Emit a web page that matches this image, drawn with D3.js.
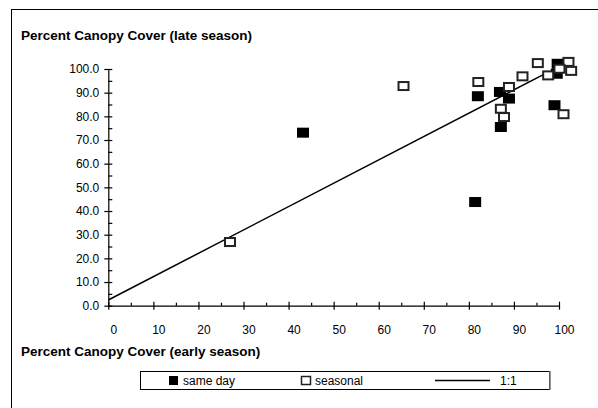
<!DOCTYPE html>
<html>
<head>
<meta charset="utf-8">
<script src="https://cdn.jsdelivr.net/npm/d3@7"></script>
<style>
  html, body { margin: 0; padding: 0; background: #fff; }
  svg { display: block; }
  text { font-family: "Liberation Sans", Arial, sans-serif; fill: #000; }
</style>
</head>
<body>
<svg id="chart" width="598" height="408"></svg>
<script>
// ---- data ----
const sameDayX = [43.2, 82.0, 86.9, 88.9, 87.1, 81.4, 99.7, 99.5, 99.0];
const sameDayY = [73.1, 88.5, 90.3, 87.5, 75.5, 43.8, 102.2, 98.0, 84.7];
const seasonalX = [27.0, 65.5, 82.1, 91.9, 88.9, 87.1, 87.8, 95.3, 102.1, 100.1, 102.7, 97.6, 101.0];
const seasonalY = [26.9, 92.8, 94.5, 96.9, 92.4, 83.2, 79.7, 102.5, 103.0, 100.1, 99.2, 97.3, 80.9];
const lineX = [0, 97.6];
const lineY = [2.4, 98.7];
const xTicks = [0, 10, 20, 30, 40, 50, 60, 70, 80, 90, 100];
const yTicks = [0, 10, 20, 30, 40, 50, 60, 70, 80, 90, 100];
const xMinor = [5, 15, 25, 35, 45, 55, 65, 75, 85, 95];
const yMinor = [5, 15, 25, 35, 45, 55, 65, 75, 85, 95];
const yTitle = "Percent Canopy Cover (late season)";
const xTitle = "Percent Canopy Cover (early season)";
const legendLabels = ["same day", "seasonal", "1:1"];

// ---- drawing ----
const svg = d3.select("#chart");
const x = d3.scaleLinear().domain([0, 100]).range([108.3, 559]);
const y = d3.scaleLinear().domain([0, 100]).range([305.7, 69]);

// outer frame
svg.append("rect").attr("x", 11.5).attr("y", 9.5).attr("width", 620).attr("height", 420)
  .attr("fill", "none").attr("stroke", "#000").attr("stroke-width", 1);

// titles
svg.append("text").attr("x", 21).attr("y", 40).attr("font-size", 13.5).attr("font-weight", "bold").text(yTitle);
svg.append("text").attr("x", 21).attr("y", 356).attr("font-size", 13.5).attr("font-weight", "bold").text(xTitle);

// x axis
const gx = svg.append("g").attr("transform", `translate(0,${y(0)})`)
  .call(d3.axisBottom(x).tickValues(xTicks).tickSize(4).tickSizeOuter(0).tickFormat(d3.format("d")));
gx.selectAll(".tick line").attr("y1", -4).attr("y2", 4);
gx.selectAll(".tick text").attr("dx", 5).attr("dy", "1.8em").attr("font-size", 12)
  .style("font-family", '"Liberation Sans", Arial, sans-serif');
const gxm = svg.append("g").attr("transform", `translate(0,${y(0)})`)
  .call(d3.axisBottom(x).tickValues(xMinor).tickSize(-3).tickSizeOuter(0).tickFormat(""));
gxm.select(".domain").remove();

// y axis
const gy = svg.append("g").attr("transform", `translate(${x(0)},0)`)
  .call(d3.axisLeft(y).tickValues(yTicks).tickSize(4).tickSizeOuter(0).tickFormat(d3.format(".1f")));
gy.selectAll(".tick line").attr("x1", -4).attr("x2", 4);
gy.selectAll(".tick text").attr("dx", -2).attr("font-size", 12)
  .style("font-family", '"Liberation Sans", Arial, sans-serif');
const gym = svg.append("g").attr("transform", `translate(${x(0)},0)`)
  .call(d3.axisLeft(y).tickValues(yMinor).tickSize(-4).tickSizeOuter(0).tickFormat(""));
gym.select(".domain").remove();

svg.selectAll(".domain, .tick line").attr("stroke", "#000").attr("stroke-width", 1.2);

// 1:1 line
const lineData = lineX.map((d, i) => [d, lineY[i]]);
svg.append("path").datum(lineData)
  .attr("d", d3.line().x(d => x(d[0])).y(d => y(d[1])))
  .attr("fill", "none").attr("stroke", "#000").attr("stroke-width", 1.5);

const mw = 12, mh = 10;
// same day (filled)
svg.append("g").selectAll("rect").data(sameDayX.map((d, i) => [d, sameDayY[i]])).join("rect")
  .attr("x", d => x(d[0]) - mw / 2).attr("y", d => y(d[1]) - mh / 2)
  .attr("width", mw).attr("height", mh).attr("fill", "#000");
// seasonal (open)
svg.append("g").selectAll("rect").data(seasonalX.map((d, i) => [d, seasonalY[i]])).join("rect")
  .attr("x", d => x(d[0]) - mw / 2 + 1).attr("y", d => y(d[1]) - mh / 2 + 1)
  .attr("width", mw - 2).attr("height", mh - 2).attr("fill", "#fff")
  .attr("stroke", "#222").attr("stroke-width", 2);

// legend
const lg = svg.append("g");
lg.append("rect").attr("x", 140.5).attr("y", 371.5).attr("width", 409).attr("height", 18)
  .attr("fill", "#fff").attr("stroke", "#000").attr("stroke-width", 1);
lg.append("line").attr("x1", 550).attr("x2", 550).attr("y1", 371).attr("y2", 390)
  .attr("stroke", "#777").attr("stroke-width", 1.5);
lg.append("rect").attr("x", 169).attr("y", 376).attr("width", 9).attr("height", 9).attr("fill", "#000");
lg.append("text").attr("x", 183).attr("y", 384.5).attr("font-size", 12).text(legendLabels[0]);
lg.append("rect").attr("x", 301.5).attr("y", 376.5).attr("width", 9).attr("height", 8)
  .attr("fill", "#fff").attr("stroke", "#222").attr("stroke-width", 1.5);
lg.append("text").attr("x", 315).attr("y", 384.5).attr("font-size", 12).text(legendLabels[1]);
lg.append("line").attr("x1", 435).attr("x2", 490).attr("y1", 380.5).attr("y2", 380.5)
  .attr("stroke", "#000").attr("stroke-width", 1.5);
lg.append("text").attr("x", 500).attr("y", 384.5).attr("font-size", 12).text(legendLabels[2]);
</script>
</body>
</html>
